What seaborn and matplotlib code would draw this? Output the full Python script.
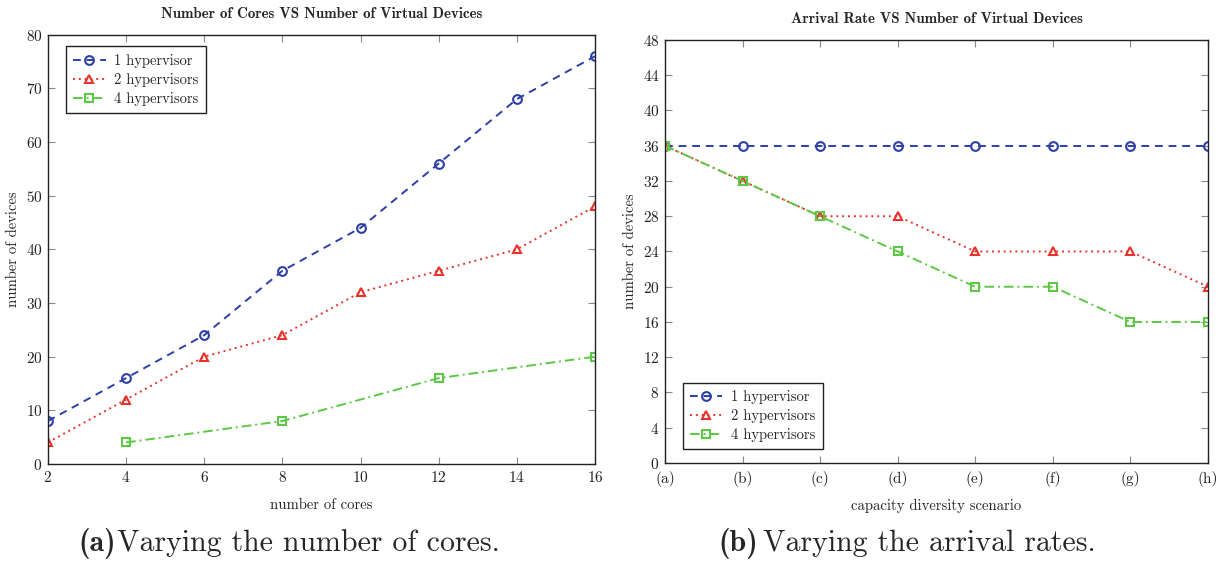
import matplotlib
matplotlib.use("Agg")
import matplotlib.pyplot as plt
import seaborn as sns
import pandas as pd

# ---- data ----
cores = [2, 4, 6, 8, 10, 12, 14, 16]
hv1_cores = [8, 16, 24, 36, 44, 56, 68, 76]
hv2_cores = [4, 12, 20, 24, 32, 36, 40, 48]
cores_hv4 = [4, 8, 12, 16]
hv4_cores = [4, 8, 16, 20]

scenarios = ["(a)", "(b)", "(c)", "(d)", "(e)", "(f)", "(g)", "(h)"]
hv1_rate = [36, 36, 36, 36, 36, 36, 36, 36]
hv2_rate = [36, 32, 28, 28, 24, 24, 24, 20]
hv4_rate = [36, 32, 28, 24, 20, 20, 16, 16]

labels = ["1 hypervisor", "2 hypervisors", "4 hypervisors"]
colors = ["#2d3fa8", "#e8322b", "#5cc845"]
markers = ["o", "^", "s"]
dashes = [(4, 3), (1, 2), (5, 2, 1, 2)]

sns.set_theme(style="ticks")
plt.rcParams["font.family"] = ["cmr10", "DejaVu Serif"]
plt.rcParams["mathtext.fontset"] = "cm"
plt.rcParams["axes.formatter.use_mathtext"] = True
plt.rcParams["axes.unicode_minus"] = False

fig = plt.figure(figsize=(12.28, 5.61), dpi=100)
ax1 = fig.add_axes([0.039, 0.173, 0.4455, 0.765])
ax2 = fig.add_axes([0.5415, 0.1747, 0.4422, 0.754])


def draw(ax, xs_list, ys_list):
    for i, (xs, ys) in enumerate(zip(xs_list, ys_list)):
        df = pd.DataFrame({"x": xs, "y": ys})
        sns.lineplot(data=df, x="x", y="y", ax=ax, color=colors[i],
                     marker=markers[i], markersize=6.3, markerfacecolor="none",
                     markeredgecolor=colors[i], markeredgewidth=1.5,
                     linewidth=1.4, dashes=False, label=labels[i])
        ax.lines[-1].set_dashes(dashes[i])


draw(ax1, [cores, cores, cores_hv4], [hv1_cores, hv2_cores, hv4_cores])
xpos = list(range(len(scenarios)))
draw(ax2, [xpos, xpos, xpos], [hv1_rate, hv2_rate, hv4_rate])

ax1.set_xlim(2, 16)
ax1.set_ylim(0, 80)
ax1.set_xticks(cores)
ax1.set_yticks(range(0, 81, 10))
ax1.set_title("Number of Cores VS Number of Virtual Devices",
              fontfamily="cmb10", fontsize=10.8, pad=12)
ax1.set_xlabel("number of cores", fontsize=10.6, labelpad=10)
ax1.set_ylabel("number of devices", fontsize=10.6, labelpad=4)

ax2.set_xlim(0, 7)
ax2.set_ylim(0, 48)
ax2.set_xticks(xpos)
ax2.set_xticklabels(scenarios)
ax2.set_yticks(range(0, 49, 4))
ax2.set_title("Arrival Rate VS Number of Virtual Devices",
              fontfamily="cmb10", fontsize=10.8, pad=12)
ax2.set_xlabel("capacity diversity scenario", fontsize=10.6, labelpad=8)
ax2.set_ylabel("number of devices", fontsize=10.6, labelpad=4)

for ax in (ax1, ax2):
    for sp in ax.spines.values():
        sp.set_visible(True)
        sp.set_color("#222222")
        sp.set_linewidth(1.0)
    ax.tick_params(direction="in", top=True, right=True, length=5,
                   width=0.8, color="#888888", labelsize=11, pad=4)
    for t in ax.get_xticklabels() + ax.get_yticklabels():
        t.set_color("#222222")
ax2.tick_params(axis="x", pad=6)

leg_kw = dict(fontsize=10.5, frameon=True, fancybox=False, edgecolor="#222222",
              framealpha=1, handlelength=2.2, borderpad=0.5, labelspacing=0.35,
              handletextpad=0.6)
l1 = ax1.legend(loc="upper left", bbox_to_anchor=(0.02, 0.99), **leg_kw)
l2 = ax2.legend(loc="lower left", bbox_to_anchor=(0.02, 0.015), **leg_kw)
for l in (l1, l2):
    l.get_frame().set_linewidth(1.0)
    for h, d in zip(l.get_lines(), dashes):
        h.set_dashes(d)

cap = 21.5
fig.text(0.0635, 0.018, "(a)", fontfamily="cmb10", fontsize=cap)
fig.text(0.095, 0.018, "Varying the number of cores.", fontsize=cap)
fig.text(0.585, 0.018, "(b)", fontfamily="cmb10", fontsize=cap)
fig.text(0.621, 0.018, "Varying the arrival rates.", fontsize=cap)

fig.savefig("out.png", dpi=100)
